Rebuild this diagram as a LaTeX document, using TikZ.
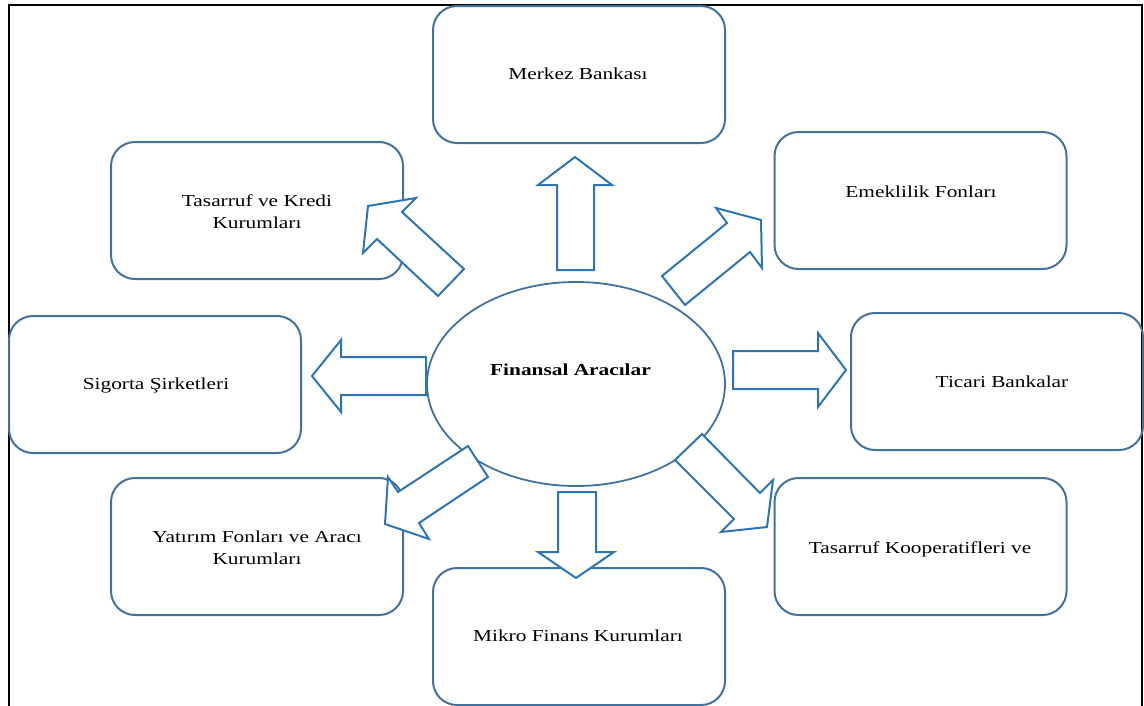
\documentclass[tikz,border=0pt]{standalone}
\usepackage{fontspec}
\setmainfont{Liberation Serif}[FakeStretch=1.27]
\usetikzlibrary{shapes.geometric}
\definecolor{boxblue}{RGB}{65,113,156}
\definecolor{arrowblue}{RGB}{46,117,182}
\begin{document}
\begin{tikzpicture}[x=1pt,y=-1pt,
  box/.style={draw=boxblue, line width=2pt, rounded corners=24pt,
    minimum width=292pt, minimum height=137pt, inner sep=0pt},
  hub/.style={ellipse, draw=boxblue, line width=1.8pt,
    minimum width=298pt, minimum height=204pt, inner sep=0pt},
  arr/.style={draw=arrowblue, fill=white, line width=2pt, line join=miter},
  lbl/.style={font=\fontsize{16.8}{22}\selectfont, align=center, inner sep=0pt}]
\useasboundingbox (0,0) rectangle (1144,705);

% outer frame (open at the bottom)
\draw[line width=2.6pt] (9,720) -- (9,5) -- (1142,5) -- (1142,720);

% institution boxes
\node[box] (merkez)  at (579,74.5)  {};
\node[box] (kredi)   at (257,210.5) {};
\node[box] (emek)    at (920.5,200.5) {};
\node[box] (sigorta) at (155,384.5) {};
\node[box] (ticari)  at (997,381.5) {};
\node[box] (yatirim) at (257,546.5) {};
\node[box] (mikro)   at (579,636.5) {};
\node[box] (koop)    at (920.5,546.5) {};

% central ellipse
\node[hub] (hub) at (576,384) {};

% block arrows from the centre outwards
\draw[arr] (557,270) -- (557,185) -- (538,185) -- (575,157) -- (612,185) -- (594,185) -- (594,270) -- cycle;
\draw[arr] (426,357) -- (341,357) -- (341,340) -- (312,376) -- (341,412) -- (341,395) -- (426,395) -- cycle;
\draw[arr] (733,351) -- (818,351) -- (818,333) -- (846,370) -- (818,407) -- (818,389) -- (733,389) -- cycle;
\draw[arr] (558,492) -- (596,492) -- (596,552) -- (614,552) -- (576,578) -- (538,552) -- (558,552) -- cycle;
\draw[arr] (368,206) -- (416,198) -- (402,212) -- (464,269) -- (438,296) -- (377,239) -- (363,253) -- cycle;
\draw[arr] (716,208) -- (761,220) -- (762,268) -- (750,252) -- (685,305) -- (662,276) -- (727,223) -- cycle;
\draw[arr] (468,446) -- (488,477) -- (419,523) -- (429,539) -- (385,524) -- (388,477) -- (398,492) -- cycle;
\draw[arr] (702,434) -- (760,493) -- (773,480) -- (767,527) -- (721,532) -- (734,519) -- (675,460) -- cycle;

% labels
\node[lbl, anchor=base] (tmerkez) at (578,79) {Merkez Bankası};
\node[lbl] (tkredi) at (257,212) {Tasarruf ve Kredi\\Kurumları};
\node[lbl, anchor=base] (temek) at (921,197.5) {Emeklilik Fonları};
\node[lbl, anchor=base] (tsigorta) at (156,389.5) {Sigorta Şirketleri};
\node[lbl, anchor=base] (tticari) at (1002,387.5) {Ticari Bankalar};
\node[lbl] (tyatirim) at (257,548) {Yatırım Fonları ve Aracı\\Kurumları};
\node[lbl, anchor=base] (tmikro) at (578,641.5) {Mikro Finans Kurumları};
\node[lbl, anchor=base] (tkoop) at (920,553.5) {Tasarruf Kooperatifleri ve};
\node[lbl, font=\fontsize{16.8}{22}\selectfont\bfseries, anchor=base] (thub) at (570.5,375.5) {Finansal Aracılar};
\end{tikzpicture}
\end{document}
